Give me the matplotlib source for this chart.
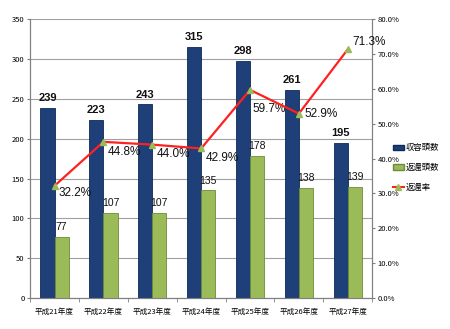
import matplotlib
matplotlib.use("Agg")
import matplotlib.pyplot as plt
import numpy as np
from matplotlib.lines import Line2D
from matplotlib.patches import Patch

plt.rcParams['font.family'] = ['Noto Sans CJK JP', 'DejaVu Sans']

categories = ['平成21年度', '平成22年度', '平成23年度', '平成24年度', '平成25年度', '平成26年度', '平成27年度']
shuyo = [239, 223, 243, 315, 298, 261, 195]
henkan = [77, 107, 107, 135, 178, 138, 139]
rate = [32.2, 44.8, 44.0, 42.9, 59.7, 52.9, 71.3]
series_names = ['収容頭数', '返還頭数', '返還率']

navy = '#1F3F78'
green = '#9BBB59'
red = '#FF2020'

fig = plt.figure(figsize=(4.5, 3.29), dpi=100)
ax = fig.add_axes([0.067, 0.094, 0.76, 0.848])
ax2 = ax.twinx()

x = np.arange(len(categories))
w = 0.29
ax.bar(x - w/2, shuyo, w, color=navy, edgecolor='#0F2A55', linewidth=0.6, zorder=3)
ax.bar(x + w/2, henkan, w, color=green, edgecolor='#6E8A3A', linewidth=0.6, zorder=3)

for xi, v in zip(x, shuyo):
    ax.annotate(str(v), (xi - w/2, v), xytext=(0, 3.5), textcoords='offset points',
                ha='center', va='bottom', fontsize=8, fontweight='bold', color='#111111',
                family=['Liberation Sans', 'DejaVu Sans'])
for xi, v in zip(x, henkan):
    ax.annotate(str(v), (xi + w/2, v), xytext=(0, 3.5), textcoords='offset points',
                ha='center', va='bottom', fontsize=7.5, color='#111111',
                family=['Liberation Sans', 'DejaVu Sans'])

ax.set_xlim(-0.5, len(categories) - 0.5)
ax.set_ylim(0, 350)
ax.set_yticks(np.arange(0, 351, 50))
ax.yaxis.grid(True, color='#A0A0A0', linewidth=0.8, zorder=0)
ax.set_axisbelow(True)
ax.set_xticks(x)
ax.set_xticklabels(categories, fontsize=5.5)
ax.set_xticks(np.arange(-0.5, len(categories), 1), minor=True)
ax.tick_params(axis='x', which='major', length=0, pad=7)
ax.tick_params(axis='x', which='minor', length=3, color='#808080')
ax.tick_params(axis='y', labelsize=5.5, length=2, color='#808080', pad=2)
for s in ['left', 'bottom', 'right']:
    ax.spines[s].set_color('#808080')
ax.spines['top'].set_visible(False)

ax2.plot(x, rate, color=red, linewidth=1.6, marker='^', markersize=5,
         markerfacecolor=green, markeredgecolor=green, zorder=5)
ax2.set_ylim(0, 80)
ax2.set_yticks(np.arange(0, 81, 10))
ax2.set_yticklabels([f'{v:.1f}%' for v in np.arange(0, 81, 10)])
ax2.tick_params(axis='y', labelsize=5.5, length=2, color='#808080', pad=2)
for s in ['left', 'bottom', 'right']:
    ax2.spines[s].set_color('#808080')
ax2.spines['top'].set_visible(False)

offsets = [(3, -5), (3, -7), (3, -7), (3, -7), (2, -14), (4, 0), (3, 5)]
for xi, v, off in zip(x, rate, offsets):
    ax2.annotate(f'{v:.1f}%', (xi, v), xytext=off, textcoords='offset points',
                 ha='left', va='center', fontsize=8.5, color='#111111',
                 family=['Liberation Sans', 'DejaVu Sans'])

handles = [Patch(facecolor=navy, edgecolor='#0F2A55'),
           Patch(facecolor=green, edgecolor='#6E8A3A'),
           Line2D([0], [0], color=red, marker='^', markerfacecolor=green,
                  markeredgecolor=green, markersize=4, linewidth=1.5)]
fig.legend(handles, series_names, loc='upper left', bbox_to_anchor=(0.865, 0.575),
           frameon=False, fontsize=6, handlelength=1.4, handleheight=0.6,
           handletextpad=0.2, labelspacing=1.3, borderaxespad=0)

fig.savefig('out.png', dpi=100)
